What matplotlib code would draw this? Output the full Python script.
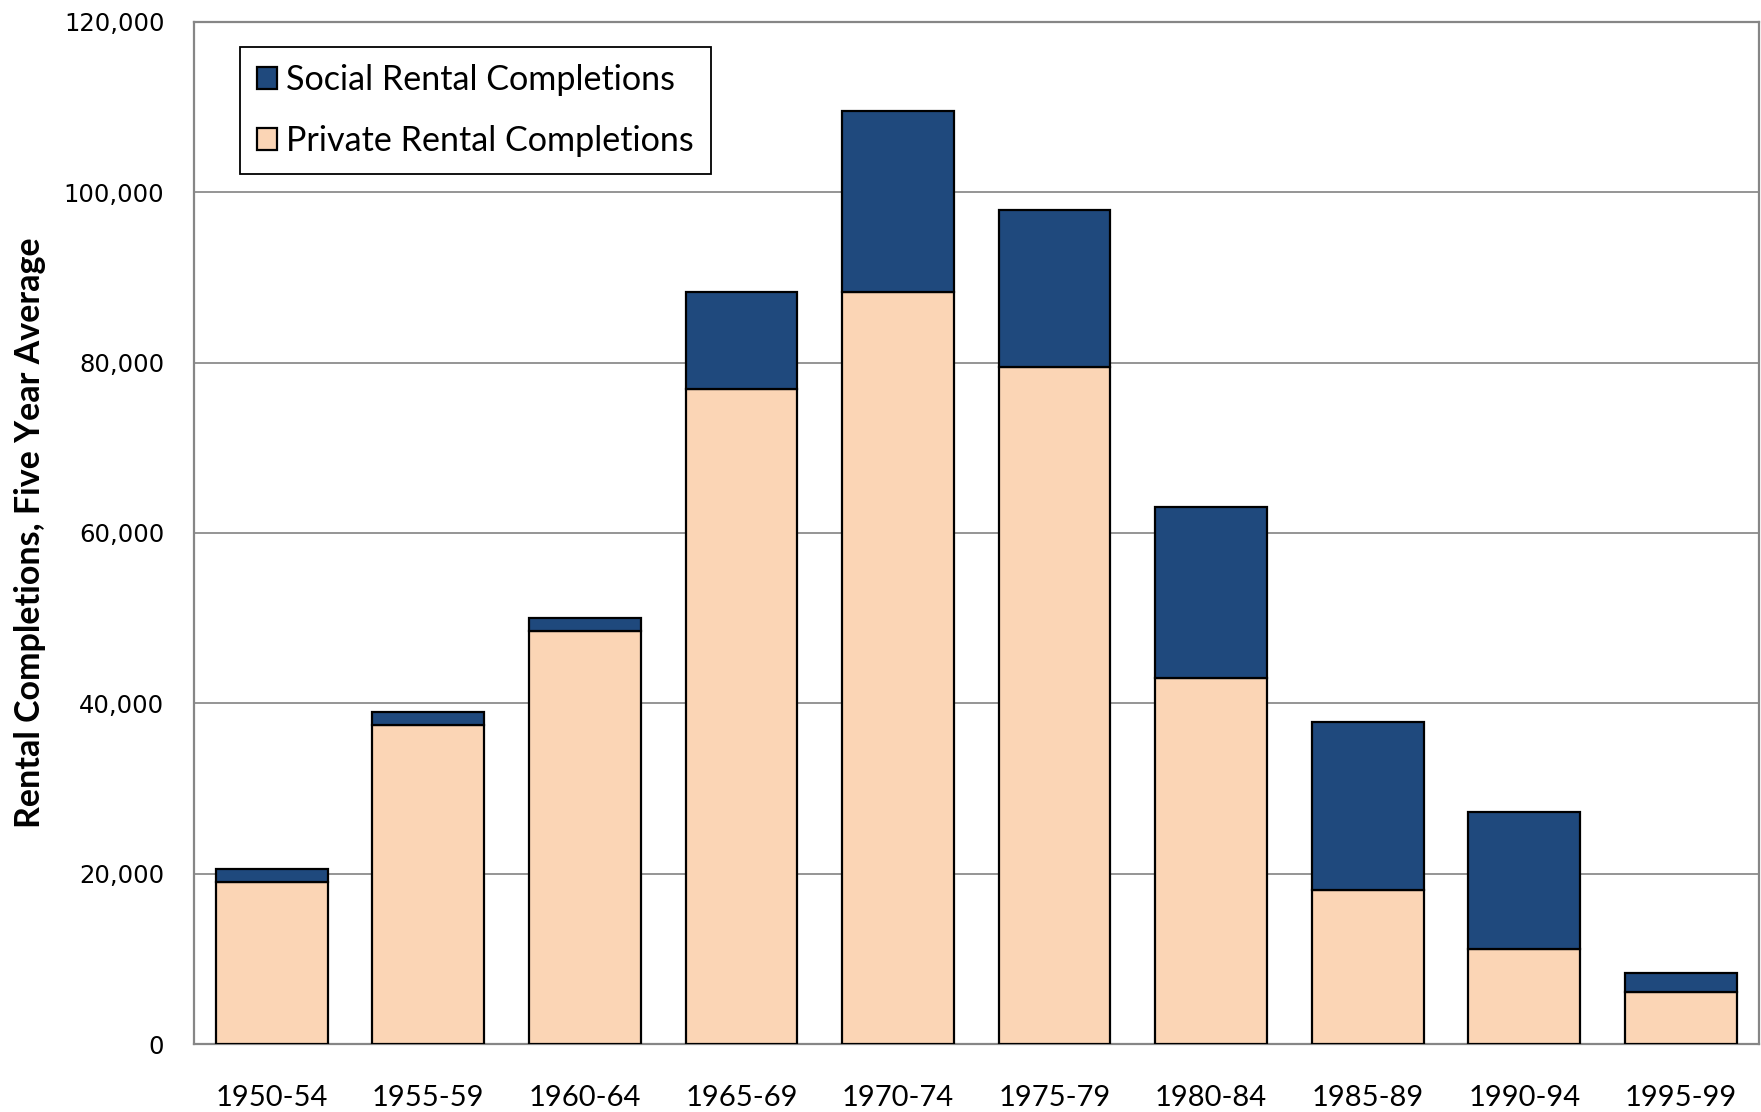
import matplotlib
matplotlib.use('Agg')
import matplotlib.pyplot as plt
from matplotlib.ticker import FuncFormatter

periods = ['1950-54', '1955-59', '1960-64', '1965-69', '1970-74',
           '1975-79', '1980-84', '1985-89', '1990-94', '1995-99']
private = [19000, 37450, 48540, 76840, 88270, 79510, 42980, 18120, 11160, 6110]
social = [1550, 1580, 1490, 11470, 21220, 18390, 20040, 19650, 16120, 2230]
yticks = [0, 20000, 40000, 60000, 80000, 100000, 120000]

body = ['Lato', 'DejaVu Sans']

fig = plt.figure(figsize=(17.61, 11.12), dpi=100)
ax = fig.add_axes([0.1099, 0.0609, 0.889, 0.9196])

x = range(len(periods))
ax.bar(x, private, width=0.714, color='#FBD5B5', edgecolor='black',
       linewidth=1.6, label='Private Rental Completions', zorder=3)
ax.bar(x, social, width=0.714, bottom=private, color='#1F497D',
       edgecolor='black', linewidth=1.6, label='Social Rental Completions',
       zorder=3)

ax.set_xlim(-0.5, len(periods) - 0.5)
ax.set_ylim(0, 120000)
ax.set_yticks(yticks)
ax.yaxis.set_major_formatter(FuncFormatter(lambda v, p: f'{int(v):,}'))
ax.yaxis.grid(True, color='#8c8c8c', linewidth=1.3, zorder=0)

ax.set_xticks(list(x))
ax.set_xticklabels(periods, family=body, fontsize=21)
ax.tick_params(axis='x', length=0, pad=29.5)
ax.tick_params(axis='y', length=0, pad=21, labelsize=17.5)
for lab in ax.get_yticklabels():
    lab.set_family('DejaVu Sans')

for s in ax.spines.values():
    s.set_color('#868686')
    s.set_linewidth(1.6)

ax.set_ylabel('Rental Completions, Five Year Average', family=body,
              fontsize=24.5, fontweight='bold', labelpad=13)

# social first in the legend, as stacked top-down
h, l = ax.get_legend_handles_labels()
leg = ax.legend(h[::-1], l[::-1], loc='upper left',
                bbox_to_anchor=(0.0297, 0.9755), borderaxespad=0,
                prop={'family': body, 'size': 24.6}, fancybox=False,
                edgecolor='black', framealpha=1, handlelength=0.59,
                handleheight=0.62, handletextpad=0.25, borderpad=0.5,
                labelspacing=0.85)
leg.get_frame().set_linewidth(1.3)

fig.savefig('out.png', dpi=100)
